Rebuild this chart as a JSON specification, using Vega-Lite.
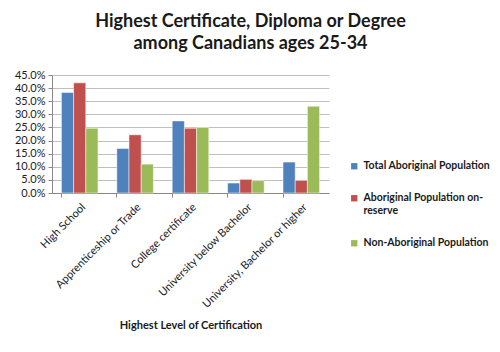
{
  "$schema": "https://vega.github.io/schema/vega-lite/v6.json",
  "width": 277,
  "height": 118,
  "autosize": {"type": "none"},
  "padding": {"left": 52, "top": 75, "right": 171, "bottom": 159},
  "background": "white",
  "title": {
    "text": ["Highest Certificate, Diploma or Degree", "among Canadians ages 25-34"],
    "font": "Lato",
    "fontSize": 18,
    "fontWeight": "bold",
    "color": "#1a1a1a",
    "anchor": "middle",
    "dx": 60,
    "offset": 16,
    "lineHeight": 22
  },
  "data": {
    "values": [
      {"cat": "High School", "series": "Total Aboriginal Population", "v": 0.383},
      {"cat": "High School", "series": "Aboriginal Population on-reserve", "v": 0.420},
      {"cat": "High School", "series": "Non-Aboriginal Population", "v": 0.247},
      {"cat": "Apprenticeship or Trade", "series": "Total Aboriginal Population", "v": 0.170},
      {"cat": "Apprenticeship or Trade", "series": "Aboriginal Population on-reserve", "v": 0.222},
      {"cat": "Apprenticeship or Trade", "series": "Non-Aboriginal Population", "v": 0.110},
      {"cat": "College certificate", "series": "Total Aboriginal Population", "v": 0.275},
      {"cat": "College certificate", "series": "Aboriginal Population on-reserve", "v": 0.247},
      {"cat": "College certificate", "series": "Non-Aboriginal Population", "v": 0.250},
      {"cat": "University below Bachelor", "series": "Total Aboriginal Population", "v": 0.038},
      {"cat": "University below Bachelor", "series": "Aboriginal Population on-reserve", "v": 0.052},
      {"cat": "University below Bachelor", "series": "Non-Aboriginal Population", "v": 0.047},
      {"cat": "University, Bachelor or higher", "series": "Total Aboriginal Population", "v": 0.118},
      {"cat": "University, Bachelor or higher", "series": "Aboriginal Population on-reserve", "v": 0.048},
      {"cat": "University, Bachelor or higher", "series": "Non-Aboriginal Population", "v": 0.331}
    ]
  },
  "mark": {"type": "bar", "stroke": "white", "strokeWidth": 0.5},
  "encoding": {
    "x": {
      "field": "cat",
      "type": "nominal",
      "sort": null,
      "scale": {"paddingInner": 0.34, "paddingOuter": 0.17},
      "axis": {
        "title": "Highest Level of Certification",
        "titleFont": "Lato",
        "titleFontSize": 11,
        "titleFontWeight": "bold",
        "titleColor": "#1a1a1a",
        "titlePadding": 10,
        "labelAngle": -45,
        "labelFont": "Lato",
        "labelFontSize": 11,
        "labelColor": "#1a1a1a",
        "labelPadding": 4,
        "bandPosition": 0,
        "tickColor": "#888888",
        "domainColor": "#888888",
        "tickSize": 4,
        "grid": false
      }
    },
    "xOffset": {
      "field": "series",
      "type": "nominal",
      "sort": ["Total Aboriginal Population", "Aboriginal Population on-reserve", "Non-Aboriginal Population"]
    },
    "y": {
      "field": "v",
      "type": "quantitative",
      "scale": {"domain": [0, 0.45], "nice": false},
      "axis": {
        "title": null,
        "format": ".1%",
        "values": [0, 0.05, 0.1, 0.15, 0.2, 0.25, 0.3, 0.35, 0.4, 0.45],
        "labelFont": "Lato",
        "labelFontSize": 11,
        "labelColor": "#1a1a1a",
        "gridColor": "#bfbfbf",
        "tickColor": "#888888",
        "domainColor": "#888888",
        "tickSize": 4,
        "labelPadding": 3
      }
    },
    "color": {
      "field": "series",
      "type": "nominal",
      "sort": ["Total Aboriginal Population", "Aboriginal Population on-reserve", "Non-Aboriginal Population"],
      "scale": {"range": ["#4F81BD", "#C0504D", "#9BBB59"]},
      "legend": {
        "title": null,
        "orient": "none",
        "legendX": 297,
        "legendY": 86,
        "symbolType": "square",
        "symbolSize": 40,
        "symbolStrokeWidth": 0,
        "labelFont": "Lato",
        "labelFontSize": 10.5,
        "labelFontWeight": "bold",
        "labelColor": "#1a1a1a",
        "labelLimit": 200,
        "rowPadding": 21,
        "labelExpr": "datum.label == 'Aboriginal Population on-reserve' ? ['Aboriginal Population on-', 'reserve'] : datum.label"
      }
    }
  },
  "config": {"view": {"stroke": null}}
}
